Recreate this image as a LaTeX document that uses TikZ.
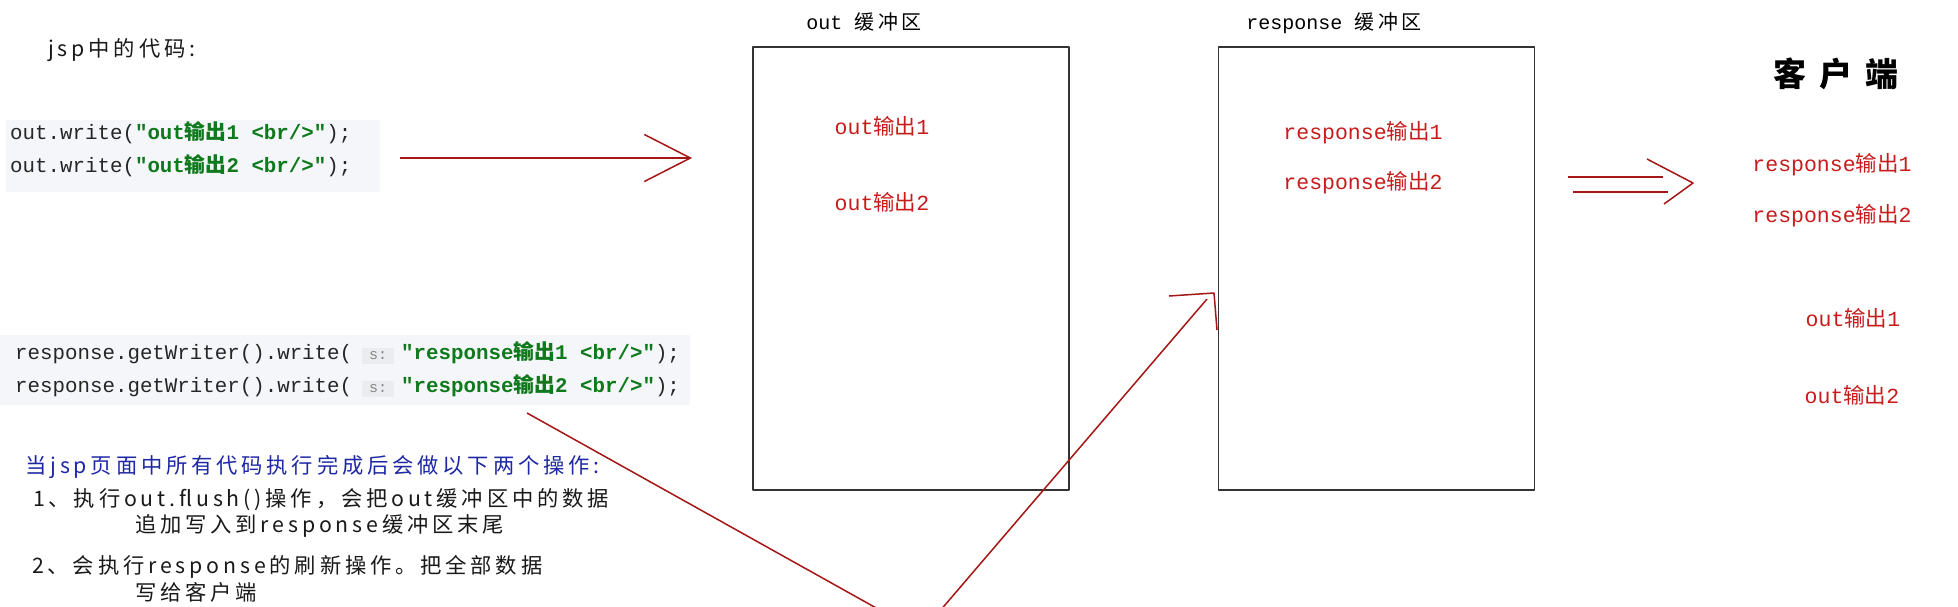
\documentclass[tikz,border=0pt]{standalone}
\usepackage{fontspec}
\setmonofont{Liberation Mono}
\newfontfamily\cjk{Noto Sans CJK SC}
\newfontfamily\cjksp{Noto Sans CJK SC}[LetterSpace=18]
\newfontfamily\cjkhead{Noto Sans CJK SC}[LetterSpace=40]
\usetikzlibrary{arrows.meta,positioning}
\definecolor{bufred}{RGB}{200,28,28}
\definecolor{arrowred}{RGB}{165,22,22}
\definecolor{strgreen}{RGB}{14,122,28}
\definecolor{codebg}{RGB}{244,246,249}
\definecolor{hintbg}{RGB}{234,236,239}
\definecolor{hintfg}{RGB}{135,135,135}
\definecolor{noteblue}{RGB}{30,40,165}
\newcommand{\zh}[1]{{\cjk #1}}
\newcommand{\zhs}[1]{{\cjksp #1}}
\newcommand{\str}[1]{{\color{strgreen}\bfseries #1}}
\newcommand{\hint}[1]{\hspace{10pt}{\fboxsep=4pt\colorbox{hintbg}{\hspace{3pt}\color{hintfg}\fontsize{15}{16}\selectfont #1\hspace{3pt}}}\hspace{7pt}}
\begin{document}
\begin{tikzpicture}[x=1pt, y=-1pt, line join=round,
  buf/.style={draw=black!80, line width=1.8pt, minimum width=316pt, minimum height=443pt, inner sep=0pt},
  buftitle/.style={font=\ttfamily\fontsize{20}{24}\selectfont},
  bufitem/.style={font=\ttfamily\fontsize{21.5}{24}\selectfont, text=bufred, inner sep=0pt},
  code/.style={anchor=west, inner sep=0pt, font=\ttfamily\fontsize{20.8}{24}\selectfont, text=black!85},
  note/.style={anchor=west, inner sep=0pt, text=black!90, font=\cjksp\fontsize{21.3}{24}\selectfont},
  redline/.style={draw=arrowred, line width=1.5pt}]
\path[use as bounding box] (0,0) rectangle (1958,606);
\fill[white] (0,0) rectangle (1958,606);
\clip (0,0) rectangle (1958,606);

\node[note] (jsp) at (48,50) {jsp中的代码:};

\fill[codebg] (6,120) rectangle (380,192);
\node[code] (outA) at (10,133) {out.write(\str{"out\zh{输出}1 <br/>"});};
\node[code] (outB) at (10,166) {out.write(\str{"out\zh{输出}2 <br/>"});};

\coordinate (a1s) at (400,158);
\coordinate (a1e) at (692,158);
\draw[redline, -{Straight Barb[length=46pt, width=47pt]}] (a1s) -- (a1e);

\node[buf] (outbuf) at (911,268.5) {};
\node[buftitle] (outtitle) at (864,22) {out \zhs{缓冲区}};
\node[bufitem] (o1) at (882,126) {out\zh{输出}1};
\node[bufitem] (o2) at (882,202) {out\zh{输出}2};

\node[buf] (respbuf) at (1376.5,268.5) {};
\node[buftitle] (resptitle) at (1334,23) {response \zhs{缓冲区}};
\node[bufitem] (r1) at (1363,133) {response\zh{输出}1};
\node[bufitem] (r2) at (1363,183) {response\zh{输出}2};

\coordinate (d1s) at (1568,177);
\coordinate (d1e) at (1663,177);
\coordinate (d2s) at (1573,192);
\coordinate (d2e) at (1668,192);
\coordinate (dtop) at (1647,159);
\coordinate (dtip) at (1693,183);
\coordinate (dbot) at (1664,204);
\draw[redline] (d1s) -- (d1e);
\draw[redline] (d2s) -- (d2e);
\draw[redline] (dtop) -- (dtip) -- (dbot);

\node[font=\cjkhead\bfseries\fontsize{33}{36}\selectfont] (client) at (1836,74) {客户端};
\foreach \n/\x/\y/\txt in {c1/1832/165/response\zh{输出}1, c2/1832/216/response\zh{输出}2,
                          c3/1853/318/out\zh{输出}1, c4/1852/395/out\zh{输出}2}
    \node[bufitem] (\n) at (\x,\y) {\txt};

\fill[codebg] (0,335) rectangle (690,405);
\node[code] (respA) at (15,353) {response.getWriter().write(\hint{s:}\str{"response\zh{输出}1 <br/>"});};
\node[code] (respB) at (15,386) {response.getWriter().write(\hint{s:}\str{"response\zh{输出}2 <br/>"});};

\node[note, text=noteblue] (when) at (25,467) {当jsp页面中所有代码执行完成后会做以下两个操作:};
\node[note] (step1) at (33,500) {1、执行out.flush()操作，会把out缓冲区中的数据};
\node[note] (step1b) at (135,526) {追加写入到response缓冲区末尾};
\node[note] (step2) at (32,567) {2、会执行response的刷新操作。把全部数据};
\node[note] (step2b) at (135,592) {写给客户端};

\coordinate (vstart) at (527,413);
\coordinate (vapex) at (921,633);
\coordinate (vtip) at (1207,299);
\coordinate (hl) at (1169,296);
\coordinate (hc) at (1214,293);
\coordinate (hb) at (1217,330);
\draw[redline] (vstart) -- (vapex) -- (vtip);
\draw[redline] (hl) -- (hc) -- (hb);

\end{tikzpicture}
\end{document}
